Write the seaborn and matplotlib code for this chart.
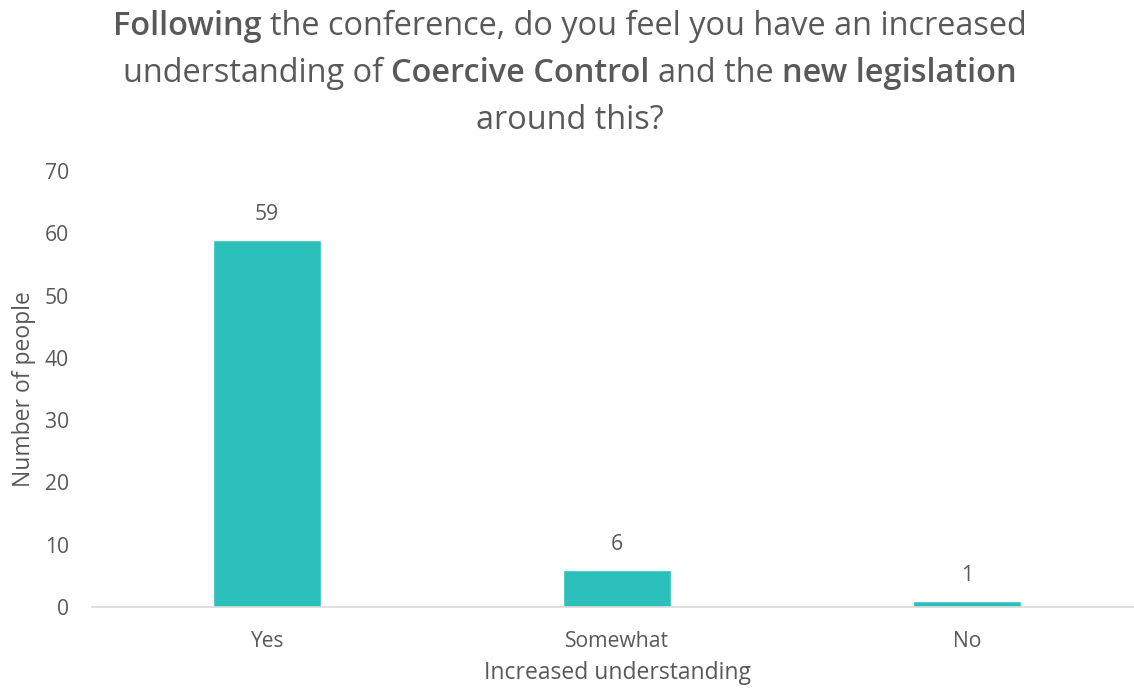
import matplotlib
matplotlib.use("Agg")
import matplotlib.pyplot as plt
import seaborn as sns
import pandas as pd

# Data
categories = ["Yes", "Somewhat", "No"]
counts = [59, 6, 1]

df = pd.DataFrame({"Response": categories, "People": counts})

sns.set_theme(style="white")
plt.rcParams["font.family"] = ["Open Sans", "DejaVu Sans"]

text_col = "#595959"
bar_col = "#2BC0BA"

W, H = 1134, 691
fig = plt.figure(figsize=(W / 100, H / 100), dpi=100)
ax = fig.add_axes([92 / W, 84 / H, 1050 / W, 436 / H])

sns.barplot(data=df, x="Response", y="People", color=bar_col, width=0.31,
            saturation=1, ax=ax)

ax.set_ylim(0, 70)
ax.set_xlim(-0.5, 2.5)
ax.set_yticks(range(0, 71, 10))
ax.tick_params(axis="both", colors=text_col, labelsize=15.2, length=0)
ax.tick_params(axis="x", pad=17)
ax.tick_params(axis="y", pad=16.5)

for s in ["top", "right", "left"]:
    ax.spines[s].set_visible(False)
ax.spines["bottom"].set_color("#d9d9d9")
ax.spines["bottom"].set_linewidth(1.2)

# value labels
for i, v in enumerate(counts):
    ax.text(i, v + 2.3, str(v), ha="center", va="bottom", fontsize=15.2, color=text_col)

ax.set_xlabel("Increased understanding", fontsize=16.5, color=text_col, labelpad=7)
ax.set_ylabel("Number of people", fontsize=16.5, color=text_col)
ax.yaxis.set_label_coords((36 - 92) / 1050, 0.5)

# title with mixed bold / regular runs, laid out by hand
title_lines = [
    [("Following", 600), ("the conference, do you feel you have an increased", "normal")],
    [("understanding of", "normal"), ("Coercive Control", 600),
     ("and the", "normal"), ("new legislation", 600)],
    [("around this?", "normal")],
]
baselines = [35, 82, 129]
tsize = 23.4

renderer = fig.canvas.get_renderer()


def width_px(s, weight):
    t = fig.text(0, 0, s, fontsize=tsize, fontweight=weight)
    w = t.get_window_extent(renderer).width
    t.remove()
    return w


space = width_px("a a", "normal") - width_px("aa", "normal")

for runs, base in zip(title_lines, baselines):
    widths = [width_px(s, wt) for s, wt in runs]
    total = sum(widths) + space * (len(runs) - 1)
    x = W / 2 + 3 - total / 2
    for (s, wt), w in zip(runs, widths):
        fig.text(x / W, 1 - base / H, s, fontsize=tsize, fontweight=wt,
                 color=text_col, ha="left", va="baseline")
        x += w + space

fig.savefig("out.png", dpi=100)
